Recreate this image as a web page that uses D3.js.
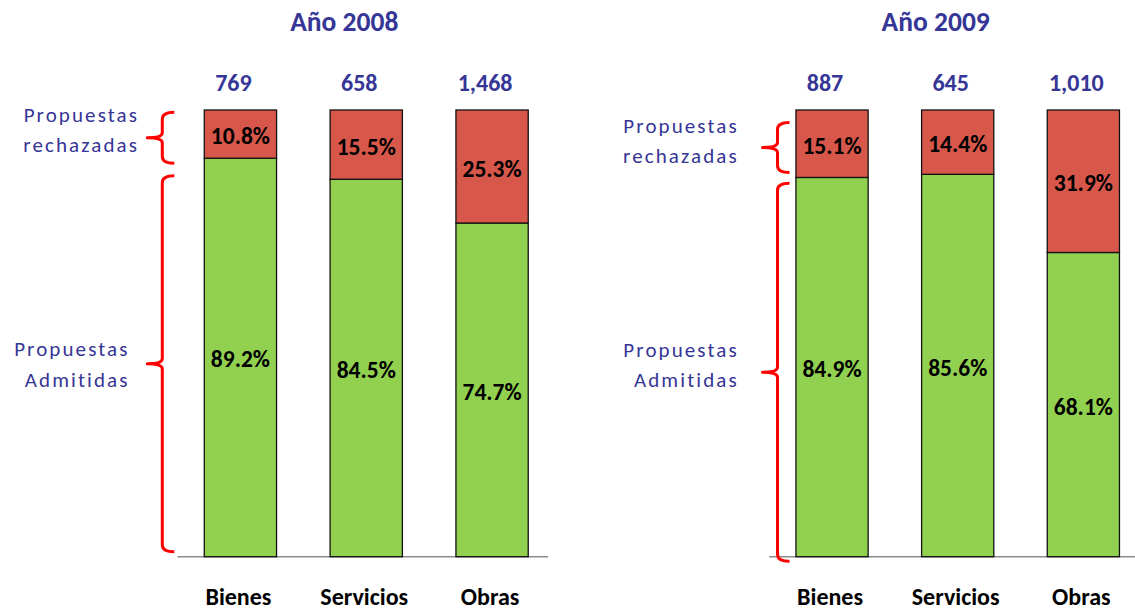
<!DOCTYPE html>
<html>
<head>
<meta charset="utf-8">
<script src="https://cdn.jsdelivr.net/npm/d3@7"></script>
<style>
  html, body { margin: 0; padding: 0; background: #fff; }
  svg { display: block; }
</style>
</head>
<body>
<svg id="chart" width="1135" height="610"></svg>
<script>
// ---- Data ----
const categories = ["Bienes", "Servicios", "Obras"];
const years = ["Año 2008", "Año 2009"];
const totals2008 = [769, 658, 1468];
const totals2009 = [887, 645, 1010];
const rechazadas2008 = [10.8, 15.5, 25.3];
const admitidas2008 = [89.2, 84.5, 74.7];
const rechazadas2009 = [15.1, 14.4, 31.9];
const admitidas2009 = [84.9, 85.6, 68.1];
const groupLabels = [["Propuestas", "rechazadas"], ["Propuestas", "Admitidas"]];

// ---- Style ----
const NAVY = "#363696";
const RED_FILL = "#d7574a";
const GREEN_FILL = "#92d050";
const BRACKET = "#ff0000";
const FONT = "Carlito, Lato, 'Open Sans', sans-serif";

const svg = d3.select("#chart");

const y = d3.scaleLinear().domain([0, 100]).range([556.7, 110]);

const panels = [
  { year: years[0], totals: totals2008, rej: rechazadas2008, adm: admitidas2008,
    range: [177.5, 555], axisEnd: 548, labelRight: [137, 127.5],
    labelBase: [[122, 152], [356, 386.7]],
    brX: 162.3, brRej: [99.5, 88.1], brAdm: [85.3, 1.1] },
  { year: years[1], totals: totals2009, rej: rechazadas2009, adm: admitidas2009,
    range: [769.2, 1146.2], axisEnd: 1135, labelRight: [736.7, 736.7],
    labelBase: [[132.7, 162.7], [356.7, 387.3]],
    brX: 777.5, brRej: [97.2, 86.0], brAdm: [83.6, -1.0] }
];

const pct = d3.format(".1f");
const cnt = d3.format(",");

function bracketPath(x, y0, y1) {
  const mid = (y0 + y1) / 2;
  const arm = 12, tip = 15, r = 7;
  return `M${x + arm},${y0} Q${x},${y0} ${x},${y0 + r} L${x},${mid - 5} Q${x},${mid} ${x - tip},${mid}` +
         ` Q${x},${mid} ${x},${mid + 5} L${x},${y1 - r} Q${x},${y1} ${x + arm},${y1}`;
}

panels.forEach(p => {
  const g = svg.append("g");
  const x = d3.scaleBand().domain(categories).range(p.range)
    .paddingInner(0.4255).paddingOuter(0.2128);

  const rows = categories.map((c, i) => ({ cat: c, total: p.totals[i], rej: p.rej[i], adm: p.adm[i] }));

  // baseline axis
  g.append("line")
    .attr("x1", p.range[0]).attr("x2", p.axisEnd)
    .attr("y1", y(0)).attr("y2", y(0))
    .attr("stroke", "#8c8c8c").attr("stroke-width", 1.5);

  // green (admitidas) segment
  g.selectAll("rect.adm").data(rows).join("rect")
    .attr("class", "adm")
    .attr("x", d => x(d.cat)).attr("width", x.bandwidth())
    .attr("y", d => y(d.adm)).attr("height", d => y(0) - y(d.adm))
    .attr("fill", GREEN_FILL).attr("stroke", "#111").attr("stroke-width", 1.3);

  // red (rechazadas) segment
  g.selectAll("rect.rej").data(rows).join("rect")
    .attr("class", "rej")
    .attr("x", d => x(d.cat)).attr("width", x.bandwidth())
    .attr("y", d => y(d.adm + d.rej)).attr("height", d => y(d.adm) - y(d.adm + d.rej))
    .attr("fill", RED_FILL).attr("stroke", "#111").attr("stroke-width", 1.3);

  // percent labels
  g.selectAll("text.padm").data(rows).join("text")
    .attr("x", d => x(d.cat) + x.bandwidth() / 2)
    .attr("y", d => (y(0) + y(d.adm)) / 2 + 10)
    .attr("text-anchor", "middle")
    .attr("font-family", FONT).attr("font-weight", "bold").attr("font-size", 23.5)
    .attr("fill", "#000")
    .text(d => pct(d.adm) + "%");

  g.selectAll("text.prej").data(rows).join("text")
    .attr("x", d => x(d.cat) + x.bandwidth() / 2)
    .attr("y", d => (y(d.adm) + y(d.adm + d.rej)) / 2 + 10)
    .attr("text-anchor", "middle")
    .attr("font-family", FONT).attr("font-weight", "bold").attr("font-size", 23.5)
    .attr("fill", "#000")
    .text(d => pct(d.rej) + "%");

  // totals
  g.selectAll("text.tot").data(rows).join("text")
    .attr("x", d => x(d.cat) + x.bandwidth() / 2 - 7)
    .attr("y", 91)
    .attr("text-anchor", "middle")
    .attr("font-family", FONT).attr("font-weight", "bold").attr("font-size", 24)
    .attr("fill", NAVY)
    .text(d => cnt(d.total));

  // category labels
  g.selectAll("text.cat").data(rows).join("text")
    .attr("x", d => x(d.cat) + x.bandwidth() / 2 - 2)
    .attr("y", 605)
    .attr("text-anchor", "middle")
    .attr("font-family", FONT).attr("font-weight", "bold").attr("font-size", 24)
    .attr("fill", "#000")
    .text(d => d.cat);

  // title
  g.append("text")
    .attr("x", (p.range[0] + p.range[1]) / 2 - 22)
    .attr("y", 31)
    .attr("text-anchor", "middle")
    .attr("font-family", FONT).attr("font-weight", "bold").attr("font-size", 27.5)
    .attr("fill", NAVY)
    .text(p.year);

  // brackets
  [p.brRej, p.brAdm].forEach(b => {
    g.append("path")
      .attr("d", bracketPath(p.brX, y(b[0]), y(b[1])))
      .attr("fill", "none").attr("stroke", BRACKET).attr("stroke-width", 3)
      .attr("stroke-linejoin", "round").attr("stroke-linecap", "butt");
  });

  // group labels
  const ls = 2.1;
  groupLabels.forEach((lines, k) => {
    lines.forEach((t, j) => {
      g.append("text")
        .attr("x", p.labelRight[k] + ls)
        .attr("y", p.labelBase[k][j])
        .attr("text-anchor", "end")
        .attr("font-family", FONT).attr("font-size", 21)
        .attr("letter-spacing", ls)
        .attr("fill", NAVY)
        .text(t);
    });
  });
});
</script>
</body>
</html>
